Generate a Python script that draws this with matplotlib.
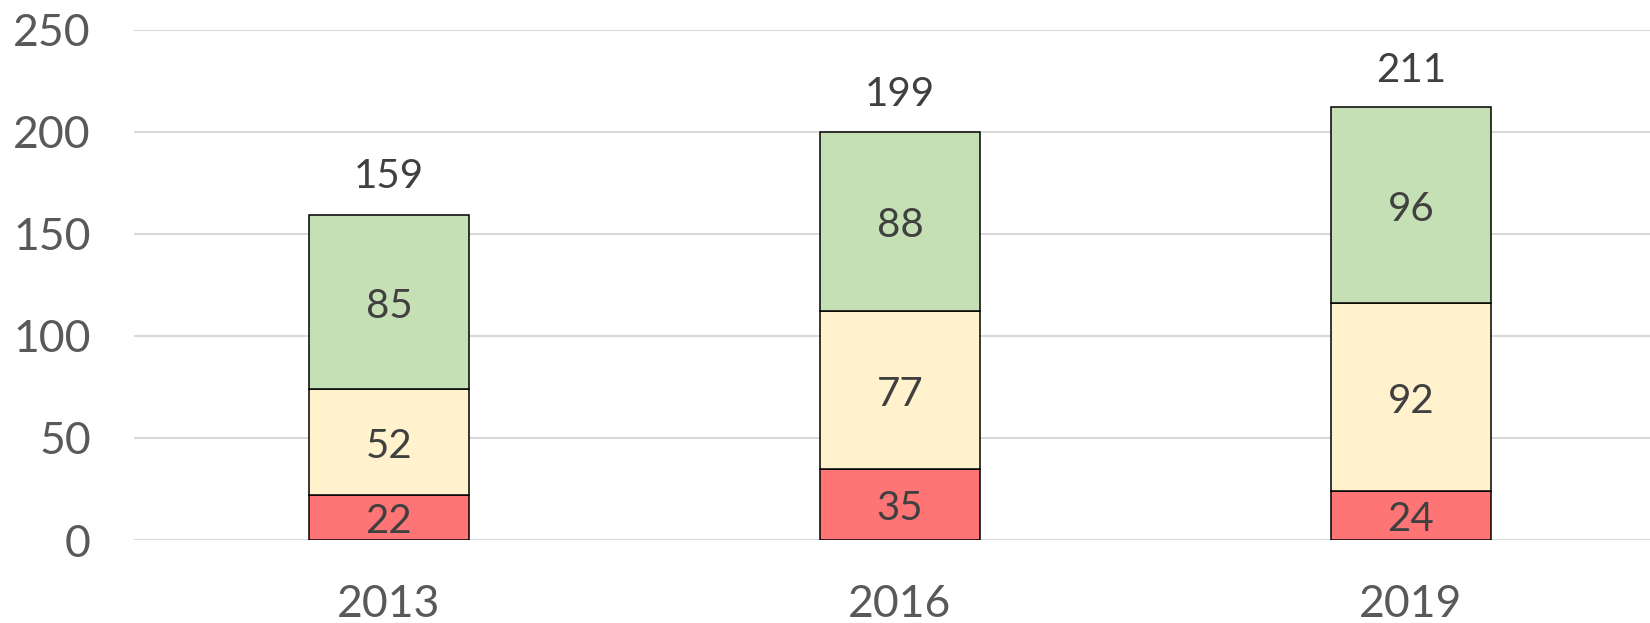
import numpy as np
import matplotlib
matplotlib.use('Agg')
import matplotlib.pyplot as plt

annees = ['2013', '2016', '2019']
rouge = [22, 35, 24]
jaune = [52, 77, 92]
vert = [85, 88, 96]
totaux = [159, 199, 211]

plt.rcParams['font.family'] = ['Lato', 'DejaVu Sans']

fig = plt.figure(figsize=(16.5, 6.23), dpi=100)
ax = fig.add_axes([0.0812, 0.1332, 0.9188, 0.8194])

x = np.arange(len(annees))
larg = 0.313
bas = np.zeros(len(annees))
for vals, coul in [(rouge, '#FF7575'), (jaune, '#FFF2CC'), (vert, '#C5E0B4')]:
    vals = np.array(vals)
    ax.bar(x, vals, larg, bottom=bas, color=coul, edgecolor='black', linewidth=1.1, zorder=3)
    for xi, b, v in zip(x, bas, vals):
        # petit decalage vers le bas pour centrer comme dans l'original
        ax.annotate(str(v), (xi, b + v/2), xytext=(0, -3), textcoords='offset points',
                    ha='center', va='center', fontsize=29, color='#404040', zorder=4)
    bas = bas + vals

for xi, t in zip(x, totaux):
    ax.annotate(str(t), (xi, t), xytext=(0, 28), textcoords='offset points',
                ha='center', va='center', fontsize=29, color='#404040')

ax.set_ylim(0, 250)
ax.set_xlim(-0.499, 2.468)
ax.set_yticks(range(0, 251, 50))
ax.set_xticks(x)
ax.set_xticklabels(annees)
ax.yaxis.grid(True, color='#D9D9D9', linewidth=1.5, zorder=0)
ax.set_axisbelow(True)
for s in ax.spines.values():
    s.set_visible(False)
ax.tick_params(axis='both', length=0, labelsize=32, labelcolor='#595959')
ax.tick_params(axis='y', pad=31)
ax.tick_params(axis='x', pad=32)

fig.savefig('out.png', dpi=100)
